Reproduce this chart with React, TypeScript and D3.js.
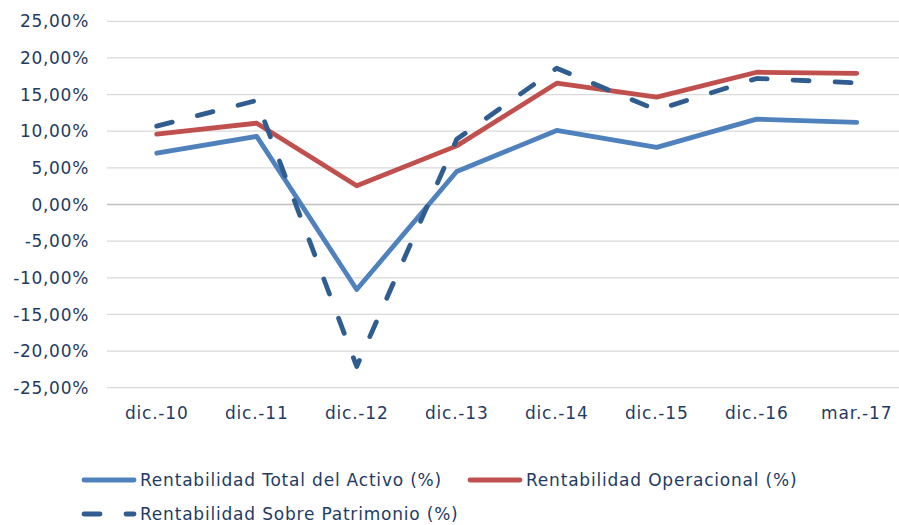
import { useMemo } from 'react';
import * as d3 from 'd3';

const categories = ['dic.-10', 'dic.-11', 'dic.-12', 'dic.-13', 'dic.-14', 'dic.-15', 'dic.-16', 'mar.-17'];
const totalActivo = [7.0, 9.3, -11.6, 4.5, 10.1, 7.8, 11.65, 11.2];
const operacional = [9.6, 11.1, 2.55, 8.0, 16.55, 14.65, 18.05, 17.9];
const patrimonio = [10.7, 14.2, -22.1, 8.9, 18.6, 12.9, 17.2, 16.6];
const yTicks = [25, 20, 15, 10, 5, 0, -5, -10, -15, -20, -25];

const series = [
  { name: 'Rentabilidad Total del Activo (%)', values: totalActivo, color: '#4F81BD', dash: null },
  { name: 'Rentabilidad Operacional (%)', values: operacional, color: '#C0504D', dash: null },
  { name: 'Rentabilidad Sobre Patrimonio (%)', values: patrimonio, color: '#2F5D8F', dash: '16,26' },
];

const W = 899;
const H = 525;
const textColor = '#1F3B63';
const font = '"DejaVu Sans", Verdana, sans-serif';

export default function App() {
  const x = useMemo(() => d3.scalePoint<string>().domain(categories).range([156.7, 856.7]), []);
  const y = useMemo(() => d3.scaleLinear().domain([-25, 25]).range([387.7, 21.3]), []);
  const fmt = (v: number) => v.toFixed(2).replace('.', ',') + '%';

  const line = d3.line<number>()
    .x((_, i) => x(categories[i]) as number)
    .y(d => y(d));

  // legend layout
  const legend = [
    { s: series[0], lx: 84, ty: 480 },
    { s: series[1], lx: 470, ty: 480 },
    { s: series[2], lx: 84, ty: 514 },
  ];

  return (
    <svg width={W} height={H} style={{ position: 'absolute', left: 0, top: 0, background: '#fff' }}
      fontFamily={font}>
      {/* grid */}
      {yTicks.map(t => (
        <line key={t} x1={107} x2={W} y1={y(t)} y2={y(t)}
          stroke={t === 0 ? '#BFBFBF' : '#D9D9D9'} strokeWidth={1.3} />
      ))}
      {/* y labels */}
      {yTicks.map(t => (
        <text key={'l' + t} x={89} y={y(t)} dy="0.36em" textAnchor="end" fontSize={17}
          letterSpacing={0.7} fill={textColor}>{fmt(t)}</text>
      ))}
      {/* x labels */}
      {categories.map(c => (
        <text key={c} x={x(c)} y={413} dy="0.36em" textAnchor="middle" fontSize={17}
          letterSpacing={0.8} fill={textColor}>{c}</text>
      ))}
      {/* lines */}
      {series.map(s => (
        <path key={s.name} d={line(s.values) || ''} fill="none" stroke={s.color} strokeWidth={4.8}
          strokeLinejoin="round" strokeLinecap="round" strokeDasharray={s.dash || undefined} />
      ))}
      {/* legend */}
      {legend.map(({ s, lx, ty }) => (
        <g key={s.name}>
          <line x1={lx} x2={lx + 50} y1={ty} y2={ty} stroke={s.color} strokeWidth={4.8}
            strokeLinecap="round" strokeDasharray={s.dash || undefined} />
          <text x={lx + 56} y={ty} dy="0.36em" fontSize={17} letterSpacing={0.8} fill={textColor}>{s.name}</text>
        </g>
      ))}
    </svg>
  );
}
